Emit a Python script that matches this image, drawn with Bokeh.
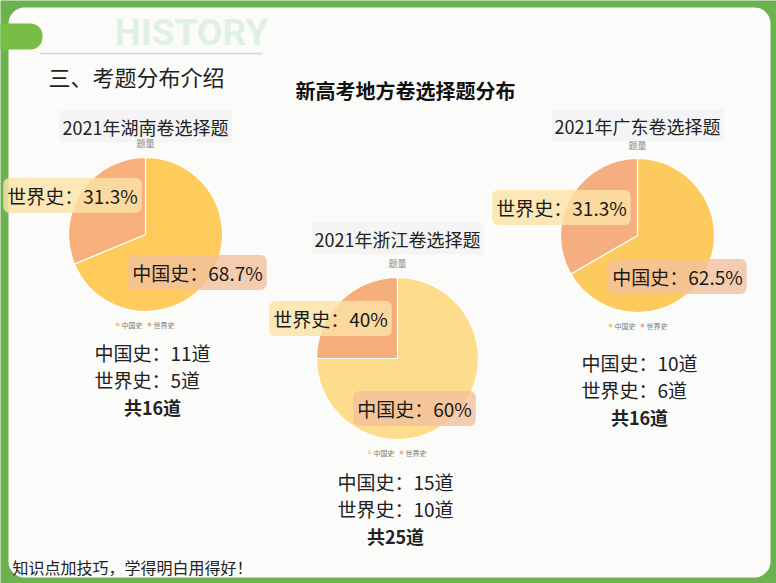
from bokeh.plotting import figure
from bokeh.models import Range1d, BoxAnnotation, Label
from bokeh.core.properties import value
from bokeh.embed import file_html
from bokeh.resources import INLINE
import numpy as np

W, H = 776, 583

# ---------------- data ----------------
categories = ["中国史", "世界史"]
hunan_counts = [11, 5]
zhejiang_counts = [15, 10]
guangdong_counts = [10, 6]
# slice sizes as drawn in the picture
hunan_slices = [11, 5]
zhejiang_slices = [3, 1]
guangdong_slices = [2, 1]
hunan_pct = ["68.7%", "31.3%"]
zhejiang_pct = ["60%", "40%"]
guangdong_pct = ["62.5%", "31.3%"]
hunan_total = 16
zhejiang_total = 25
guangdong_total = 16

FONT = "Noto Sans CJK SC"


def Y(py):
    return H - py


p = figure(width=W, height=H, x_range=Range1d(0, W), y_range=Range1d(0, H),
           output_backend="svg", toolbar_location=None, min_border=0)
p.axis.visible = False
p.grid.visible = False
p.outline_line_color = None
p.background_fill_color = "#6cb24f"
p.border_fill_color = "#6cb24f"

# white panel
p.add_layout(BoxAnnotation(left=8, right=770, top=Y(7), bottom=Y(577),
                           fill_color="#fbfbfa", fill_alpha=1, line_color=None,
                           border_radius=16, level="underlay"))
# tab
p.add_layout(BoxAnnotation(left=-20, right=42, top=Y(23), bottom=Y(49),
                           fill_color="#78bd45", fill_alpha=1, line_color=None,
                           border_radius=12, level="underlay"))


def txt(x, y, s, size, color="#222222", bold=False, align="center", font=FONT, alpha=1.0):
    p.text(x=[x], y=[Y(y)], text=[s], text_font=value(font),
           text_font_size=f"{size}px", text_color=color, text_alpha=alpha,
           text_font_style="bold" if bold else "normal",
           text_align=align, text_baseline="middle")


# header
txt(191, 32, "HISTORY", 37, color="#dff0e4", bold=True, font="Roboto")
p.line(x=[40, 262], y=[Y(53), Y(53)], line_color="#c9dccf", line_width=1.5)
txt(48, 75, "三、考题分布介绍", 22, color="#222222", align="left")
txt(405, 90, "新高考地方卷选择题分布", 20, color="#111111", bold=True)

yellow_pal = {"hunan": ("#fecb5c", "#f7b07c"),
              "zhejiang": ("#fddc8c", "#f6ae7c"),
              "guangdong": ("#fdca5e", "#f5ae80")}

charts = [
    dict(key="hunan", name="2021年湖南卷选择题", slices=hunan_slices, counts=hunan_counts,
         pct=hunan_pct, total=hunan_total, cx=145, cy=234, r=77, ty=126, qy=143,
         lab_w=(72, 195), lab_c=(197, 272), leg_y=324, leg_x=117,
         bx=94, by=352),
    dict(key="zhejiang", name="2021年浙江卷选择题", slices=zhejiang_slices, counts=zhejiang_counts,
         pct=zhejiang_pct, total=zhejiang_total, cx=397, cy=358, r=81, ty=238, qy=263,
         lab_w=(330, 318), lab_c=(414, 408), leg_y=452, leg_x=369,
         bx=337, by=481),
    dict(key="guangdong", name="2021年广东卷选择题", slices=guangdong_slices, counts=guangdong_counts,
         pct=guangdong_pct, total=guangdong_total, cx=637, cy=235, r=77, ty=125, qy=145,
         lab_w=(561, 207), lab_c=(677, 276), leg_y=325, leg_x=610,
         bx=581, by=362),
]

for c in charts:
    cy_, cw = yellow_pal[c["key"]]
    # title with faint box
    p.add_layout(Label(x=c["cx"], y=Y(c["ty"]), text=c["name"], text_font=FONT,
                       text_font_size="18px", text_color="#222222",
                       text_align="center", text_baseline="middle",
                       background_fill_color="#eeeeee", background_fill_alpha=0.55,
                       padding=3, level="underlay"))
    txt(c["cx"], c["qy"], "题量", 9, color="#888888")
    # pie
    vals = np.array(c["slices"], dtype=float)
    frac = vals / vals.sum()
    ang = np.deg2rad(360 * frac)
    # 中国史 clockwise from 12 o'clock, 世界史 the rest
    start = np.pi / 2
    starts = [start - ang[0], start]
    ends = [start, start + ang[1]]
    p.wedge(x=[c["cx"]] * 2, y=[Y(c["cy"])] * 2, radius=c["r"],
            start_angle=starts, end_angle=ends,
            fill_color=[cy_, cw], line_color="#ffffff", line_width=1.2)
    # labels
    for (lx, ly), cat, pc, bg in [(c["lab_w"], categories[1], c["pct"][1], "#fde3a6"),
                                  (c["lab_c"], categories[0], c["pct"][0], "#f3c09c")]:
        p.add_layout(Label(x=lx, y=Y(ly), text=f"{cat}：{pc}", text_font=FONT,
                           text_font_size="19px", text_color="#1a1a1a",
                           text_align="center", text_baseline="middle",
                           background_fill_color=bg, background_fill_alpha=0.8,
                           padding=4, border_radius=6))
    # legend
    lx = c["leg_x"]
    for i, cat in enumerate(categories):
        col = [cy_, cw][i]
        p.scatter(x=[lx + i * 32], y=[Y(c["leg_y"])], size=3, color=col)
        txt(lx + 4 + i * 32, c["leg_y"], cat, 7, color="#777777", align="left")
    # count texts
    txt(c["bx"], c["by"], f"{categories[0]}：{c['counts'][0]}道", 19, align="left")
    txt(c["bx"], c["by"] + 27, f"{categories[1]}：{c['counts'][1]}道", 19, align="left")
    txt(c["bx"] + 58, c["by"] + 54, f"共{c['total']}道", 18, bold=True)

# footer
txt(12, 566, "知识点加技巧，学得明白用得好！", 16, color="#222222", align="left")

open("out.html", "w").write(file_html(p, INLINE))
